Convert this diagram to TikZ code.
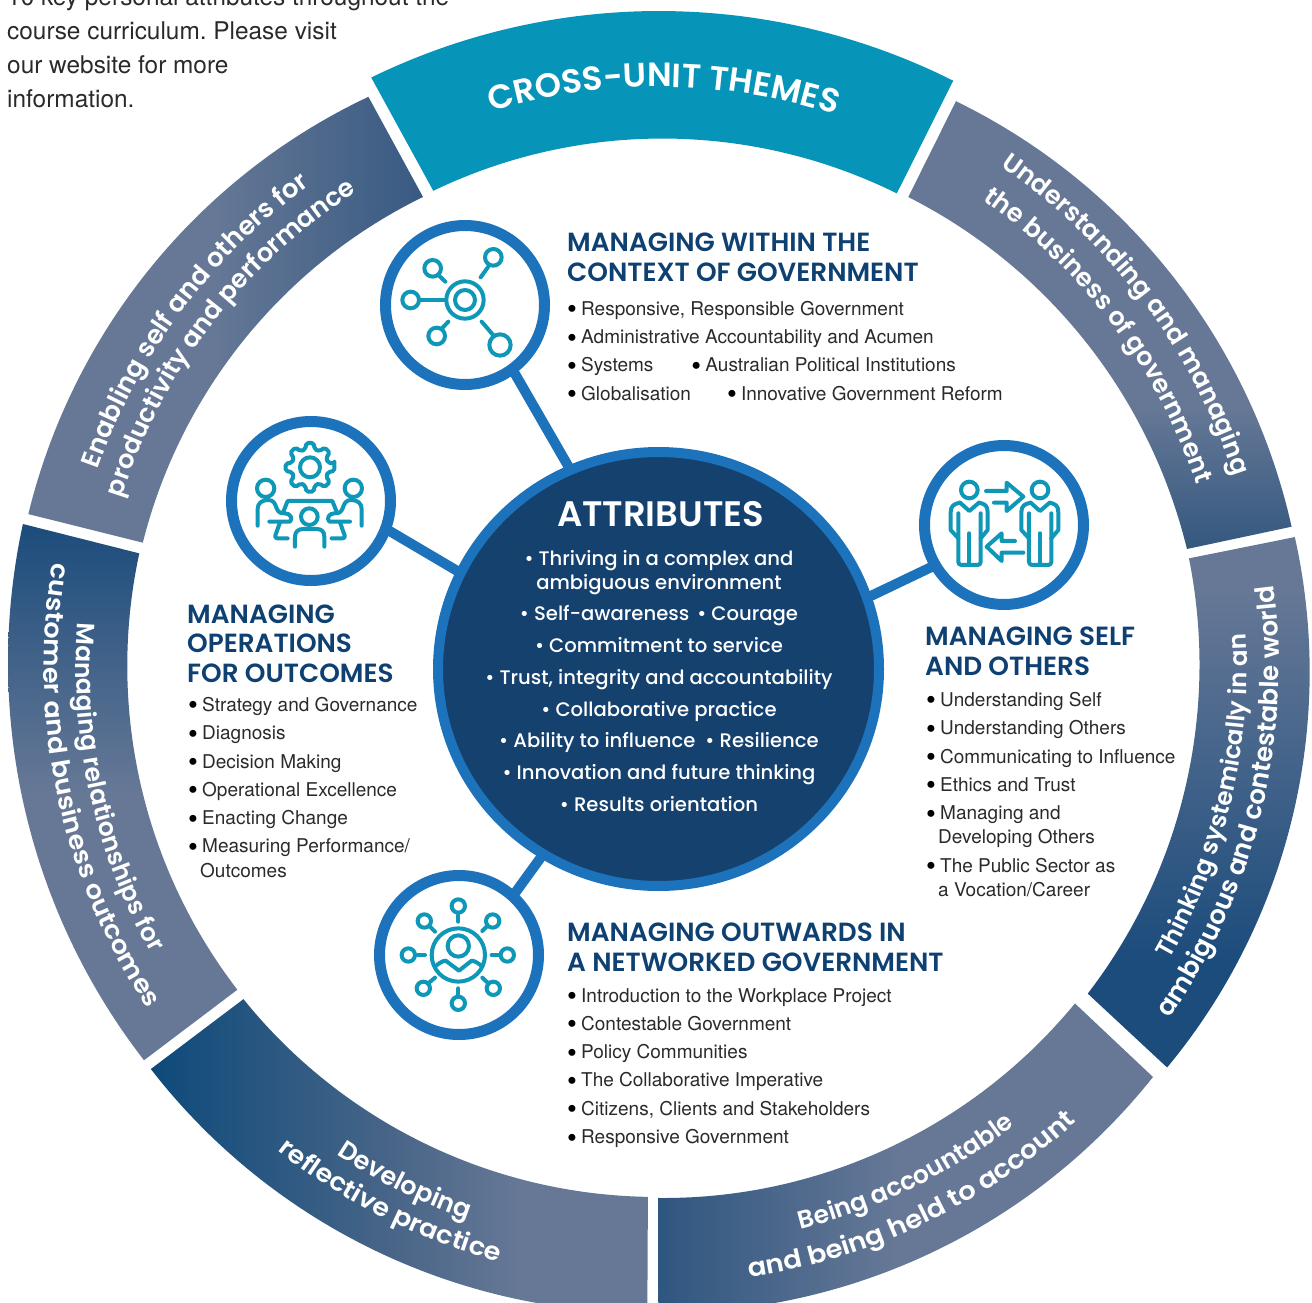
\documentclass[tikz,border=0pt]{standalone}
\usepackage{fontspec}
\setmainfont{TeX Gyre Heros}
\newfontfamily\hfont{Poppins SemiBold}
\newfontfamily\hfontw{Poppins SemiBold}[FakeStretch=1.08]
\newfontfamily\mfont{Poppins Medium}
\usetikzlibrary{decorations.text,shapes.geometric}
\definecolor{seggray}{HTML}{667896}
\definecolor{segmid}{HTML}{3F5F87}
\definecolor{segdark}{HTML}{1C4C7C}
\definecolor{segdeep}{HTML}{0D4A7B}
\definecolor{tealseg}{HTML}{0694B8}
\definecolor{ringblue}{HTML}{1C72BB}
\definecolor{navy}{HTML}{15416F}
\definecolor{headc}{HTML}{0E4071}
\definecolor{bodyc}{HTML}{2A2A2A}
\definecolor{iconc}{HTML}{0F97B8}
\definecolor{underend}{HTML}{34587F}
\definecolor{beingend}{HTML}{2F5680}
\definecolor{enabend}{HTML}{385A82}
\definecolor{devmid}{HTML}{4A6688}
\pgfdeclarelayer{bg}
\pgfsetlayers{bg,main}
\pgfdeclareverticalshading{shunder}{100bp}{color(0bp)=(underend); color(25bp)=(underend); color(41bp)=(seggray); color(100bp)=(seggray)}
\pgfdeclareverticalshading{shthink}{100bp}{color(0bp)=(segdark); color(35bp)=(segdark); color(70bp)=(seggray); color(100bp)=(seggray)}
\pgfdeclareverticalshading{shmanage}{100bp}{color(0bp)=(seggray); color(50bp)=(seggray); color(75bp)=(segdark); color(100bp)=(segdark)}
\pgfdeclarehorizontalshading{shbeing}{100bp}{color(0bp)=(beingend); color(25bp)=(beingend); color(49bp)=(seggray); color(100bp)=(seggray)}
\pgfdeclarehorizontalshading{shdevel}{100bp}{color(0bp)=(segdeep); color(25bp)=(segdeep); color(50bp)=(devmid); color(62bp)=(seggray); color(100bp)=(seggray)}
\pgfdeclarehorizontalshading{shenab}{100bp}{color(0bp)=(seggray); color(48bp)=(seggray); color(75bp)=(enabend); color(100bp)=(enabend)}
\newcommand\sgf[1]{\hfont\fontsize{#1}{#1}\selectfont}
\newcommand\sgw[1]{\hfontw\fontsize{#1}{#1}\selectfont}
\newcommand\blt{\makebox[14pt][l]{\raisebox{-3.5pt}{\color{black}\fontsize{28}{28}\selectfont\textbullet}}}
\newcommand\bulge{0}
% outer a1 r1 a2 r2, inner a3 r3 a4 r4
\newcommand\segpath[8]{plot[domain=0:1,samples=60,variable=\t] ({659+(#2+(#4-#2)*\t+\bulge*4*\t*(1-\t))*cos(#1+(#3-#1)*\t)},{667-(#2+(#4-#2)*\t+\bulge*4*\t*(1-\t))*sin(#1+(#3-#1)*\t)}) -- plot[domain=0:1,samples=60,variable=\t] ({659+(#6+(#8-#6)*\t)*cos(#5+(#7-#5)*\t)},{667-(#6+(#8-#6)*\t)*sin(#5+(#7-#5)*\t)}) -- cycle}
\newcommand\arcline[5]{\path[decorate,decoration={text along path,text align=center,text={|#1\color{white}|#5}}] ({659+#2*cos(#3)},{667-#2*sin(#3)}) arc[start angle=#3,end angle=#4,radius=#2pt];}
\tikzset{
 iconring/.style={circle,draw=ringblue,line width=11pt,fill=white,minimum size=159pt,inner sep=0pt},
 link/.style={draw=ringblue,line width=10pt,shorten <=-4pt,shorten >=-4pt},
 icon/.style={draw=iconc,line width=4pt,line cap=round,line join=round},
 body/.style={font=\fontsize{19}{28.3}\selectfont,align=left,inner sep=0pt,text=bodyc,anchor=north west},
 head/.style={font=\hfont\fontsize{26.3}{29.7}\selectfont,align=left,inner sep=0pt,text=headc,anchor=north west},
}
\begin{document}
\begin{tikzpicture}[x=1pt,y=-1pt]
\clip (0,0) rectangle (1312,1303);
% ring segments
\fill[tealseg] \segpath{116.02}{656}{63.31}{656}{63.34}{530}{115.4}{527};
\renewcommand\bulge{2}
\shade[shading=shunder] \segpath{62.31}{639}{12.47}{648}{12.6}{541}{62.09}{532};
\renewcommand\bulge{3}
\shade[shading=shthink] \segpath{11.55}{649}{-38.28}{647}{-37.3}{539}{11.62}{541};
\renewcommand\bulge{2}
\shade[shading=shbeing] \segpath{-39.69}{642}{-90.1}{646}{-90.1}{531}{-38.93}{535};
\shade[shading=shdevel] \segpath{-141.65}{648}{-91}{646}{-91.2}{530}{-141.4}{532};
\renewcommand\bulge{0}
\shade[shading=shmanage] \segpath{167.33}{652}{217.4}{648}{217.43}{531}{167.63}{532};
\renewcommand\bulge{2}
\shade[shading=shenab] \segpath{166.37}{649}{116.97}{640}{116.66}{526}{166.49}{531};
% ring labels
\arcline{\sgf{33.6}}{580}{108}{71}{CROSS-UNIT THEMES}
\arcline{\sgf{25.5}}{606}{60}{14}{Understanding and managing}
\arcline{\sgf{25.5}}{568}{60}{14}{the business of government}
\arcline{\sgf{24.5}}{588}{-39.3}{12.7}{Thinking systemically in an}
\arcline{\sgf{26}}{620}{-40}{13}{ambiguous and contestable world}
\arcline{\sgf{25}}{580}{-89.5}{-38.5}{Being accountable}
\arcline{\sgw{25.5}}{617}{-90}{-39}{and being held to account}
\arcline{\sgf{25.5}}{585}{218.7}{268.7}{Developing}
\arcline{\sgw{25}}{616}{218.3}{268.3}{reflective practice}
\arcline{\sgf{25}}{583}{167}{218}{Managing relationships for}
\arcline{\sgw{25}}{615}{166}{218}{customer and business outcomes}
\arcline{\sgf{26}}{595}{167.3}{119.3}{Enabling self and others for}
\arcline{\sgf{25.6}}{563}{166.5}{118.5}{productivity and performance}
% hub and icon rings
\node[ellipse,draw=ringblue,line width=10pt,fill=navy,minimum width=441pt,minimum height=434pt,inner sep=0pt] (hub) at (658.5,669) {};
\node[iconring] (icona) at (465,305) {};
\node[iconring] (iconb) at (311,501) {};
\node[iconring] (iconc) at (1004,525) {};
\node[iconring] (icond) at (459,955) {};
\begin{pgfonlayer}{bg}
\draw[link] (icona.-54) -- (hub.114);
\draw[link] (iconb.-21) -- (hub.154);
\draw[link] (iconc.210) -- (hub.19);
\draw[link] (icond.48) -- (hub.238);
\end{pgfonlayer}
% icon a
\begin{scope}[shift={(370,210)},x=0.3333pt,y=-0.3333pt,icon]
\draw (285,270) circle[radius=56];
\draw (285,270) circle[radius=30];
\foreach \p/\r in {370/142,188/175,122/270,200/378}{\draw (\p,\r) circle[radius=25];}
\draw (390,405) circle[radius=32];
\draw (150,270) -- (225,270);
\draw (332,202) -- (355,170);
\draw (208,198) -- (226,215);
\draw (216,355) -- (235,335);
\draw (335,335) -- (372,378);
\end{scope}
% icon b
\begin{scope}[shift={(215,405)},x=0.3333pt,y=-0.3333pt,icon]
\draw (285,187) circle[radius=30];
\draw[rounded corners=2pt] ({285+74*cos(-9)},{187+74*sin(-9)}) \foreach \a in {0,45,...,315}{ -- ({285+74*cos(\a-9)},{187+74*sin(\a-9)}) -- ({285+74*cos(\a+9)},{187+74*sin(\a+9)}) -- ({285+56*cos(\a+14)},{187+56*sin(\a+14)}) -- ({285+56*cos(\a+31)},{187+56*sin(\a+31)}) } -- cycle;
\draw (152,250) circle[radius=26];
\draw (415,250) circle[radius=26];
\draw (283,335) circle[radius=25];
\draw (128,362) -- (128,312) .. controls (128,295) and (140,285) .. (160,285) .. controls (175,285) and (180,295) .. (185,310) .. controls (190,322) and (195,325) .. (210,325) .. controls (225,325) and (235,340) .. (225,350) -- (163,350);
\draw (440,362) -- (440,312) .. controls (440,295) and (428,285) .. (408,285) .. controls (393,285) and (388,295) .. (383,310) .. controls (378,322) and (373,325) .. (358,325) .. controls (343,325) and (333,340) .. (343,350) -- (405,350);
\draw (240,425) -- (240,395) .. controls (240,380) and (250,372) .. (265,372) -- (305,372) .. controls (320,372) and (328,380) .. (328,395) -- (328,425);
\draw (205,320) -- (218,288) -- (352,288) -- (365,320);
\draw[rounded corners=3pt] (195,352) -- (178,400) -- (218,400);
\draw[rounded corners=3pt] (375,352) -- (392,400) -- (350,400);
\end{scope}
% icon c
\begin{scope}[shift={(910,435)},x=0.3333pt,y=-0.3333pt,icon]
\foreach \d in {0,212}{
\begin{scope}[xshift=\d*0.3333pt]
\draw (178,165) circle[radius=25];
\draw (150,203) -- (178,228) -- (207,203);
\draw (150,203) .. controls (132,207) and (122,212) .. (122,232) -- (122,285) -- (145,310);
\draw (207,203) .. controls (225,207) and (233,212) .. (233,232) -- (233,285) -- (212,310);
\draw[rounded corners=3pt] (145,235) -- (145,390) -- (212,390) -- (212,235);
\draw (178,295) -- (178,390);
\end{scope}}
\draw (228,168) -- (290,168) -- (290,143) -- (340,185) -- (290,228) -- (290,203) -- (252,203);
\draw (315,318) -- (275,318) -- (275,295) -- (230,335) -- (275,378) -- (275,353) -- (340,353);
\end{scope}
% icon d
\begin{scope}[shift={(365,860)},x=0.3333pt,y=-0.3333pt,icon]
\draw (280,285) circle[radius=80];
\draw (280,258) circle[radius=32];
\draw (212,318) .. controls (222,310) and (232,303) .. (242,302) -- (282,332) -- (320,302) .. controls (330,303) and (340,310) .. (350,318);
\foreach \p/\r in {280/138,280/430,130/285,427/285,178/183,383/183,175/385,385/385}{\draw (\p,\r) circle[radius=20];}
\draw (280,165) -- (280,185);
\draw (280,385) -- (280,405);
\draw (158,285) -- (180,285);
\draw (380,285) -- (402,285);
\draw (195,200) -- (210,215);
\draw (365,200) -- (352,213);
\draw (192,368) -- (210,353);
\draw (368,368) -- (352,353);
\end{scope}
% hub text
\node[inner sep=0pt,text=white,font=\hfont\fontsize{35.4}{35.4}\selectfont] (hubtitle) at (660.5,514) {ATTRIBUTES};
\node[inner sep=0pt,text=white,align=center,font=\mfont\fontsize{19.6}{24}\selectfont,anchor=north] (hubtext) at (659,550) {\textbullet{} Thriving in a complex and\\ambiguous environment\\[7pt]\textbullet{} Self-awareness\hspace{8pt}\textbullet{} Courage\\[8pt]\textbullet{} Commitment to service\\[8pt]\textbullet{} Trust, integrity and accountability\\[8pt]\textbullet{} Collaborative practice\\[7pt]\textbullet{} Ability to influence\hspace{10pt}\textbullet{} Resilience\\[8pt]\textbullet{} Innovation and future thinking\\[8pt]\textbullet{} Results orientation};
% intro text
\node[inner sep=0pt,anchor=north west,align=left,text=bodyc,font=\fontsize{24.4}{34}\selectfont\frenchspacing] (intro) at (7,-12) {10 key personal attributes throughout the\\course curriculum. Please visit\\our website for more\\information.};
% headings and lists
\node[head] (heada) at (567,233) {MANAGING WITHIN THE\\CONTEXT OF GOVERNMENT};
\node[body] (lista) at (567,301) {\blt Responsive, Responsible Government\\\blt Administrative Accountability and Acumen\\\blt Systems\hspace{38pt}\blt Australian Political Institutions\\\blt Globalisation\hspace{36pt}\blt Innovative Government Reform};
\node[head] (headb) at (187,604.5) {MANAGING\\OPERATIONS\\FOR OUTCOMES};
\node[body] (listb) at (188,697) {\blt Strategy and Governance\\\blt Diagnosis\\\blt Decision Making\\\blt Operational Excellence\\\blt Enacting Change\\\blt Measuring Performance/\\[-4pt]\hspace{12pt}Outcomes};
\node[head] (headc) at (925,627) {MANAGING SELF\\AND OTHERS};
\node[body] (listc) at (926,692) {\blt Understanding Self\\\blt Understanding Others\\\blt Communicating to Influence\\\blt Ethics and Trust\\\blt Managing and\\[-4pt]\hspace{12pt}Developing Others\\\blt The Public Sector as\\[-4pt]\hspace{12pt}a Vocation/Career};
\node[head] (headd) at (567,923) {MANAGING OUTWARDS IN\\A NETWORKED GOVERNMENT};
\node[body] (listd) at (567,988) {\blt Introduction to the Workplace Project\\\blt Contestable Government\\\blt Policy Communities\\\blt The Collaborative Imperative\\\blt Citizens, Clients and Stakeholders\\\blt Responsive Government};
\end{tikzpicture}
\end{document}
